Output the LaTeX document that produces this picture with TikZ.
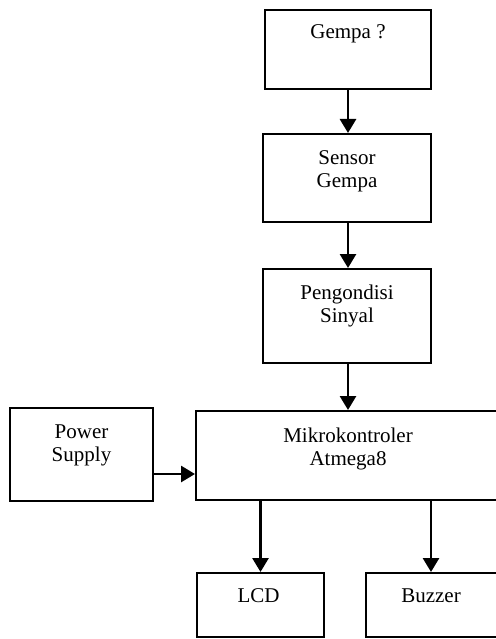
\documentclass[tikz,border=0pt]{standalone}
\usepackage{fontspec}
\setmainfont{Liberation Serif}
\usetikzlibrary{arrows.meta}

\tikzset{
  blok/.style={draw, line width=2pt, inner sep=0pt},
  panah/.style={line width=2.8pt, -{Triangle[length=14pt,width=16pt]}},
  tulisan/.style={anchor=base, align=center, inner sep=0pt,
    font=\fontsize{21}{23}\selectfont}
}

\begin{document}
\begin{tikzpicture}[x=1pt,y=-1pt]
  \useasboundingbox (0,0) rectangle (495,639);

  % blok diagram
  \node[blok, minimum width=166pt, minimum height=79pt,
    label={[tulisan, yshift=-30pt]north:Gempa ?}] (gempa) at (348,49.5) {};
  \node[blok, minimum width=168pt, minimum height=88pt,
    label={[tulisan, yshift=-54pt]north:Sensor\\Gempa}] (sensor) at (347,178) {};
  \node[blok, minimum width=168pt, minimum height=94pt,
    label={[tulisan, yshift=-54pt]north:Pengondisi\\Sinyal}] (kondisi) at (347,316) {};
  \node[blok, minimum width=320pt, minimum height=89pt,
    label={[tulisan, xshift=-8pt, yshift=-55pt]north:Mikrokontroler\\Atmega8}] (mikro) at (356,455.5) {};
  \node[blok, minimum width=143pt, minimum height=93pt,
    label={[tulisan, yshift=-54pt]north:Power\\Supply}] (power) at (81.5,454.5) {};
  \node[blok, minimum width=127pt, minimum height=64pt,
    label={[tulisan, xshift=-2pt, yshift=-30pt]north:LCD}] (lcd) at (260.5,605) {};
  \node[blok, minimum width=148pt, minimum height=64pt,
    label={[tulisan, xshift=-9pt, yshift=-30pt]north:Buzzer}] (buzzer) at (440,605) {};

  % panah
  \draw[panah] (gempa.south) -- (gempa.south |- sensor.north);
  \draw[panah] (gempa.south |- sensor.south) -- (gempa.south |- kondisi.north);
  \draw[panah] (gempa.south |- kondisi.south) -- (gempa.south |- mikro.north);
  \draw[panah] ([yshift=-19.5pt]power.east) -- ([yshift=-19.5pt]power.east -| mikro.west);
  \draw[panah] (mikro.south -| lcd.north) -- (lcd.north);
  \draw[panah] ([xshift=-9pt]mikro.south -| buzzer.north) -- ([xshift=-9pt]buzzer.north);
\end{tikzpicture}
\end{document}
